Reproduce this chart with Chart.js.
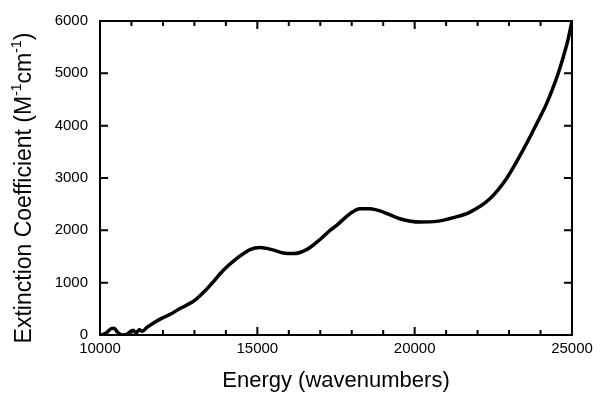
<!DOCTYPE html>
<html lang="en">
<head>
    <meta charset="UTF-8">
    <title>Extinction Coefficient</title>
    <script src="https://cdn.jsdelivr.net/npm/chart.js"></script>
    <style>
        body { margin: 0; background: #fff; }
    </style>
</head>
<body>
    <canvas id="spectrum" width="601" height="402"></canvas>

    <script>
        // values
        const energy = [10050, 10200, 10350, 10450, 10550, 10700, 10850, 10950, 11050, 11150,
            11250, 11350, 11500, 11700, 11960, 12250, 12490, 12750, 13020, 13300,
            13550, 13920, 14340, 14770, 15085, 15455, 15825, 16140, 16565,
            16990, 17310, 17520, 17945, 18260, 18580, 19000, 19530, 20170, 20700,
            21230, 21760, 22390, 22920, 23450, 23980, 24200, 24400, 24600, 24750,
            24880, 25000];
        const extinction = [0, 40, 120, 130, 60, 0, 10, 60, 90, 40,
            100, 70, 150, 230, 318, 400, 489, 570, 667, 820,
            984, 1238, 1460, 1632, 1670, 1632, 1568, 1556, 1632,
            1825, 2000, 2095, 2318, 2413, 2413, 2349, 2222, 2159, 2171,
            2242, 2349, 2603, 2990, 3540, 4159, 4430, 4730, 5070, 5370,
            5660, 6000];
        const xLabelTicks = [10000, 15000, 20000, 25000];

        const font = 'Liberation Sans, Arial, Helvetica, sans-serif';

        // box, inward ticks and rotated y title with superscripts
        const framePlugin = {
            id: 'frame',
            afterDraw(chart) {
                const { ctx, chartArea: a, scales } = chart;
                ctx.save();
                ctx.strokeStyle = '#000';
                ctx.lineWidth = 2;
                ctx.strokeRect(a.left, a.top, a.right - a.left, a.bottom - a.top);
                ctx.beginPath();
                scales.x.ticks.forEach(t => {
                    const px = scales.x.getPixelForValue(t.value);
                    const len = xLabelTicks.includes(t.value) ? 8 : 5;
                    ctx.moveTo(px, a.bottom); ctx.lineTo(px, a.bottom - len);
                    ctx.moveTo(px, a.top); ctx.lineTo(px, a.top + len);
                });
                scales.y.ticks.forEach(t => {
                    const py = scales.y.getPixelForValue(t.value);
                    ctx.moveTo(a.left, py); ctx.lineTo(a.left + 8, py);
                    ctx.moveTo(a.right, py); ctx.lineTo(a.right - 8, py);
                });
                ctx.stroke();

                // y title
                const parts = [
                    ['Extinction Coefficient (M', false],
                    ['-1', true],
                    ['cm', false],
                    ['-1', true],
                    [')', false]
                ];
                const big = '23px ' + font, small = '14px ' + font;
                let total = 0;
                parts.forEach(p => { ctx.font = p[1] ? small : big; total += ctx.measureText(p[0]).width; });
                ctx.translate(25, 188);
                ctx.rotate(-Math.PI / 2);
                ctx.fillStyle = '#000';
                ctx.textBaseline = 'middle';
                ctx.textAlign = 'left';
                let x = -total / 2;
                parts.forEach(p => {
                    ctx.font = p[1] ? small : big;
                    ctx.fillText(p[0], x, p[1] ? -8 : 0);
                    x += ctx.measureText(p[0]).width;
                });
                ctx.restore();
            }
        };

        const ctx = document.getElementById('spectrum').getContext('2d');
        new Chart(ctx, {
            type: 'line',
            data: {
                datasets: [{
                    data: energy.map((e, i) => ({ x: e, y: extinction[i] })),
                    borderColor: '#000',
                    borderWidth: 3.5,
                    pointRadius: 0,
                    cubicInterpolationMode: 'monotone',
                    fill: false
                }]
            },
            options: {
                responsive: false,
                animation: false,
                layout: { padding: { top: 20, right: 29, left: 0, bottom: 0 } },
                plugins: { legend: { display: false }, tooltip: { enabled: false } },
                scales: {
                    x: {
                        type: 'linear',
                        min: 10000,
                        max: 25000,
                        grid: { display: false, drawTicks: false },
                        border: { display: false },
                        afterFit(s) { s.height = 67; },
                        ticks: {
                            stepSize: 1000,
                            autoSkip: false,
                            maxRotation: 0,
                            padding: 5,
                            color: '#000',
                            font: { family: font, size: 15 },
                            callback: v => xLabelTicks.includes(v) ? String(v) : ''
                        },
                        title: {
                            display: true,
                            text: 'Energy (wavenumbers)',
                            color: '#000',
                            font: { family: font, size: 22 },
                            padding: 8
                        }
                    },
                    y: {
                        min: 0,
                        max: 6000,
                        grid: { display: false, drawTicks: false },
                        border: { display: false },
                        afterFit(s) { s.width = 100; },
                        ticks: {
                            stepSize: 1000,
                            padding: 12,
                            color: '#000',
                            font: { family: font, size: 15 },
                            callback: v => String(v)
                        }
                    }
                }
            },
            plugins: [framePlugin]
        });
    </script>
</body>
</html>
